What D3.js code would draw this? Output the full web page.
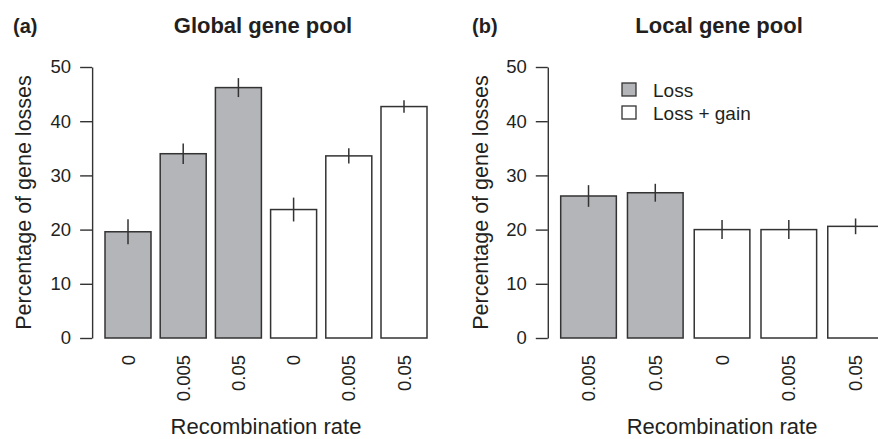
<!DOCTYPE html>
<html>
<head>
<meta charset="utf-8">
<script src="https://cdn.jsdelivr.net/npm/d3@7"></script>
<style>
  body { margin: 0; background: #fff; }
  svg { display: block; }
  text { font-family: "Liberation Sans", Arial, Helvetica, sans-serif; fill: #231f20; }
</style>
</head>
<body>
<div id="chart"></div>
<script>
// global gene pool (a)
const globalLabels = ['0', '0.005', '0.05', '0', '0.005', '0.05'];
const globalGroups = ['Loss', 'Loss', 'Loss', 'Loss + gain', 'Loss + gain', 'Loss + gain'];
const globalValues = [19.6, 34.0, 46.2, 23.7, 33.6, 42.7];
const globalErrors = [2.3, 1.9, 1.75, 2.2, 1.4, 1.15];

// local gene pool (b)
const localLabels = ['0.005', '0.05', '0', '0.005', '0.05'];
const localGroups = ['Loss', 'Loss', 'Loss + gain', 'Loss + gain', 'Loss + gain'];
const localValues = [26.2, 26.8, 20.0, 20.0, 20.6];
const localErrors = [2.0, 1.65, 1.75, 1.75, 1.45];

const yTicks = [0, 10, 20, 30, 40, 50];
const legendItems = ['Loss', 'Loss + gain'];

const W = 878, H = 439;
const fillColor = {'Loss': '#b4b5b8', 'Loss + gain': '#ffffff'};
const ink = '#333333';

const svg = d3.select('#chart').append('svg')
    .attr('width', W)
    .attr('height', H);

const yScale = d3.scaleLinear().domain([0, 50]).range([338, 67]);

function drawPanel(cfg) {
    const g = svg.append('g');
    const n = cfg.labels.length;
    // R barplot: width 1, space 0.2, xlim padded 4%
    const xScale = d3.scaleBand()
        .domain(d3.range(n))
        .range([cfg.barStart, cfg.barEnd])
        .paddingInner(0.2 / 1.2)
        .paddingOuter(0);
    const bw = xScale.bandwidth();
    const pad = 0.04 * (n * 1.2 - 0.2) * bw;
    const axisX = cfg.barStart - pad;
    const plotRight = cfg.barEnd + pad;

    // y axis
    const yAxis = d3.axisLeft(yScale).tickValues(yTicks).tickSize(12).tickSizeOuter(0).tickPadding(9);
    const yAxisG = g.append('g')
        .attr('transform', `translate(${axisX},0)`)
        .call(yAxis);
    yAxisG.selectAll('path, line').attr('stroke', ink).attr('stroke-width', 1.4);
    yAxisG.selectAll('text').style('font-size', '18.5px').attr('fill', '#231f20')
        .style('font-family', '"Liberation Sans", Arial, sans-serif');

    // bars
    g.selectAll('.bar')
        .data(cfg.values)
        .join('rect')
        .attr('class', 'bar')
        .attr('x', (d, i) => xScale(i))
        .attr('y', d => yScale(d))
        .attr('width', bw)
        .attr('height', d => yScale(0) - yScale(d))
        .attr('fill', (d, i) => fillColor[cfg.groups[i]])
        .attr('stroke', ink)
        .attr('stroke-width', 1.5);

    // error bars
    g.selectAll('.err')
        .data(cfg.values)
        .join('line')
        .attr('class', 'err')
        .attr('x1', (d, i) => xScale(i) + bw / 2)
        .attr('x2', (d, i) => xScale(i) + bw / 2)
        .attr('y1', (d, i) => yScale(d + cfg.errors[i]))
        .attr('y2', (d, i) => yScale(d - cfg.errors[i]))
        .attr('stroke', ink)
        .attr('stroke-width', 1.5);

    // x tick labels, rotated
    g.selectAll('.xlab')
        .data(cfg.labels)
        .join('text')
        .attr('class', 'xlab')
        .attr('transform', (d, i) => `translate(${xScale(i) + bw / 2 + 6.5},355) rotate(-90)`)
        .attr('text-anchor', 'end')
        .style('font-size', '18.5px')
        .text(d => d);

    const cx = (axisX + plotRight) / 2;
    g.append('text')
        .attr('x', cx).attr('y', 434)
        .attr('text-anchor', 'middle')
        .style('font-size', '22px')
        .text('Recombination rate');

    g.append('text')
        .attr('transform', `translate(${cfg.yTitleX},${(yScale(0) + yScale(50)) / 2}) rotate(-90)`)
        .attr('text-anchor', 'middle')
        .style('font-size', '21.5px')
        .text('Percentage of gene losses');

    g.append('text')
        .attr('x', cx - 3).attr('y', 33)
        .attr('text-anchor', 'middle')
        .style('font-size', '22px')
        .style('font-weight', 'bold')
        .text(cfg.title);

    g.append('text')
        .attr('x', cfg.tagX).attr('y', 33)
        .style('font-size', '20px')
        .style('font-weight', 'bold')
        .text(cfg.tag);
}

drawPanel({
    labels: globalLabels, groups: globalGroups, values: globalValues, errors: globalErrors,
    barStart: 105, barEnd: 427, yTitleX: 31, title: 'Global gene pool', tag: '(a)', tagX: 13
});
drawPanel({
    labels: localLabels, groups: localGroups, values: localValues, errors: localErrors,
    barStart: 560.7, barEnd: 883.4, yTitleX: 488, title: 'Local gene pool', tag: '(b)', tagX: 472
});

// legend
const legend = svg.append('g').attr('transform', 'translate(622,83)');
legend.selectAll('rect')
    .data(legendItems)
    .join('rect')
    .attr('x', 0)
    .attr('y', (d, i) => i * 23)
    .attr('width', 14)
    .attr('height', 13)
    .attr('fill', d => fillColor[d])
    .attr('stroke', ink)
    .attr('stroke-width', 1.3);
legend.selectAll('text')
    .data(legendItems)
    .join('text')
    .attr('x', 31)
    .attr('y', (d, i) => 13.5 + i * 23)
    .style('font-size', '19px')
    .text(d => d);
</script>
</body>
</html>
